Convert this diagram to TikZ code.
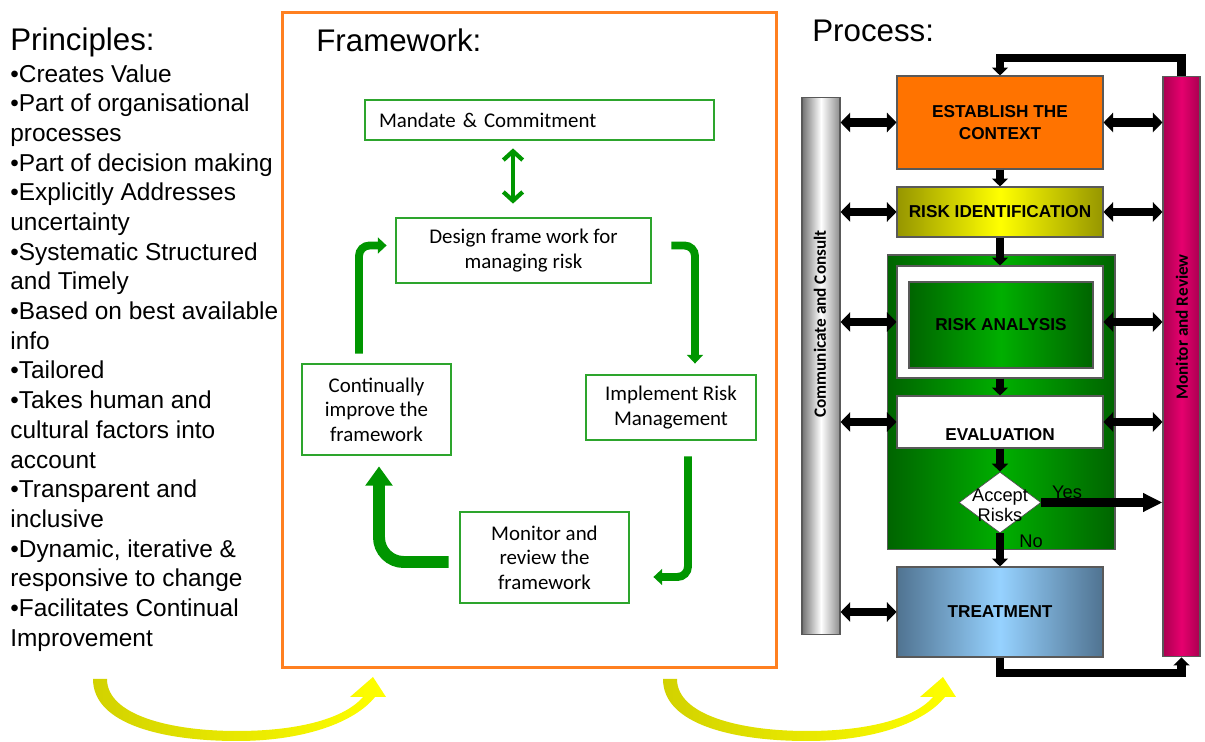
\documentclass[tikz,border=0pt]{standalone}
\usepackage{fontspec}
\setmainfont{Liberation Sans}
\newfontfamily\calibri{Carlito}
\usetikzlibrary{arrows.meta,shapes.geometric,calc}

\definecolor{frameorange}{RGB}{255,128,32}
\definecolor{fwgreen}{RGB}{45,165,45}
\definecolor{fwarrowgreen}{RGB}{0,150,0}
\definecolor{ctxorange}{RGB}{255,115,0}
\definecolor{idolive}{RGB}{150,150,0}
\definecolor{idyellow}{RGB}{255,255,0}
\definecolor{dkgreen}{RGB}{0,100,0}
\definecolor{ltgreen}{RGB}{0,175,0}
\definecolor{tdark}{RGB}{80,115,145}
\definecolor{tlight}{RGB}{150,210,255}
\definecolor{magdark}{RGB}{170,0,80}
\definecolor{magenta}{RGB}{230,0,110}
\definecolor{arcolive}{RGB}{210,210,0}

\tikzset{
  fwbox/.style={draw=fwgreen, line width=1.6pt, fill=white, align=center,
    font=\calibri\fontsize{11.9}{14}\selectfont, inner sep=0pt},
  fwarrow/.style={draw=fwarrowgreen, line width=4.5pt, rounded corners=6pt,
    -{Triangle[width=9pt,length=5pt]}},
  procbox/.style={draw=black!65, line width=0.6pt, minimum width=4.12cm, align=center,
    font=\bfseries\fontsize{9.8}{12.5}\selectfont, inner sep=0pt},
  dblarrow/.style={line width=4.6pt, {Triangle[width=11pt,length=5.5pt]}-{Triangle[width=11pt,length=5.5pt]}},
  downarrow/.style={line width=4.6pt, -{Triangle[width=9pt,length=4.5pt]}},
  loopline/.style={line width=5pt, -{Triangle[width=9pt,length=4.5pt]}},
  bartext/.style={font=\calibri\bfseries\fontsize{9.8}{11}\selectfont, inner sep=0pt},
  ptxt/.style={font=\fontsize{10.4}{11.4}\selectfont, inner sep=0pt}
}

\begin{document}
\begin{tikzpicture}[x=0.02cm, y=-0.02cm]
\useasboundingbox (0,0) rectangle (1205,742);

% principles
\node[anchor=base west, inner sep=0pt, font=\fontsize{17.8}{20}\selectfont] (princhead) at (10,51) {Principles:};
\node[anchor=north west, inner sep=0pt, align=left, font=\fontsize{13.9}{16.9}\selectfont] (princlist) at (10,64)
  {•Creates Value\\
   •Part of organisational\\
   processes\\
   •Part of decision making\\
   •Explicitly Addresses\\
   uncertainty\\
   •Systematic Structured\\
   and Timely\\
   •Based on best available\\
   info\\
   •Tailored\\
   •Takes human and\\
   cultural factors into\\
   account\\
   •Transparent and\\
   inclusive\\
   •Dynamic, iterative \&\\
   responsive to change\\
   •Facilitates Continual\\
   Improvement};

% framework
\node[draw=frameorange, line width=1.7pt, minimum width=9.9cm, minimum height=13.12cm, inner sep=0pt] (frame) at (529.5,340) {};
\node[anchor=base west, inner sep=0pt, font=\fontsize{17.8}{20}\selectfont] (framehead) at (316,52) {Framework:};

\node[fwbox, minimum width=6.98cm, minimum height=0.8cm, text width=6.42cm, align=left, inner xsep=0.28cm] (mandate) at (539.5,120) {Mandate \& Commitment};
\node[fwbox, minimum width=5.1cm, minimum height=1.3cm] (design) at (523.5,250.5) {Design frame work for\\managing risk};
\node[fwbox, minimum width=3.4cm, minimum height=1.3cm] (implement) at (671,407.5) {Implement Risk\\Management};
\node[fwbox, minimum width=3.38cm, minimum height=1.82cm] (monitor) at (544.5,557.5) {Monitor and\\review the\\framework};
\node[fwbox, minimum width=2.98cm, minimum height=1.82cm] (improve) at (376.5,409.5) {Continually\\improve the\\framework};

\draw[draw=fwarrowgreen, line width=2.4pt, shorten <=0.26cm, shorten >=0.14cm,
  {Straight Barb[length=5pt,width=11pt]}-{Straight Barb[length=5pt,width=11pt]}]
  ($(design.north)+(-10.5,0)$) -- ($(design.north |- mandate.south)+(-10.5,0)$);
\draw[fwarrow] ([xshift=-0.35cm,yshift=0.18cm]improve.north) |- ([xshift=-0.16cm,yshift=0.1cm]design.west);
\draw[fwarrow] ([xshift=0.38cm,yshift=0.1cm]design.east) -| ([xshift=0.48cm,yshift=0.2cm]implement.north);
\draw[fwarrow] ([xshift=0.34cm,yshift=-0.3cm]implement.south) |- ([xshift=0.46cm,yshift=-0.39cm]monitor.east);
\draw[fwarrow, line width=6.8pt, rounded corners=14pt, -{Triangle[width=15pt,length=11pt]}]
  ([xshift=-0.2cm,yshift=-0.09cm]monitor.west) -| ([xshift=0.05cm,yshift=-0.2cm]improve.south);

% process
\node[anchor=base west, inner sep=0pt, font=\fontsize{17.8}{20}\selectfont] (prochead) at (812,42) {Process:};

\node[procbox, left color=black!55, right color=black!45, middle color=white, minimum width=0.76cm, minimum height=10.76cm] (consult) at (821,366) {};
\node[procbox, left color=magdark, right color=magdark, middle color=magenta, minimum width=0.74cm, minimum height=11.62cm] (review) at (1181.5,366.5) {};
\node[bartext, rotate=90] (consulttext) at (820,324) {Communicate and Consult};
\node[bartext, rotate=90] (reviewtext) at (1182,327) {Monitor and Review};

\node[procbox, fill=ctxorange, minimum height=1.86cm] (context) at (1000,122.5) {ESTABLISH THE\\CONTEXT};
\node[procbox, left color=idolive, right color=idolive, middle color=idyellow, minimum height=1cm] (riskid) at (1000,212) {RISK IDENTIFICATION};
\node[procbox, left color=dkgreen, right color=dkgreen, middle color=ltgreen, minimum width=4.56cm, minimum height=5.9cm] (analysisbox) at (1001,402.5) {};
\node[procbox, fill=white, minimum height=2.24cm] (analysisframe) at (1000,322) {};
\node[procbox, left color=dkgreen, right color=dkgreen, middle color=ltgreen, minimum width=3.68cm, minimum height=1.72cm] (analysis) at (1001,325) {RISK ANALYSIS};
\node[procbox, fill=white, minimum height=1.04cm,
  label={[font=\bfseries\fontsize{9.8}{12.5}\selectfont, yshift=-0.26cm]center:EVALUATION}] (evaluation) at (1000,422) {};
\node[diamond, draw=black!70, fill=white, minimum width=1.64cm, minimum height=1.22cm, inner sep=0pt,
  label={[ptxt, align=center, yshift=-0.06cm]center:Accept\\Risks}] (accept) at (1000,502.5) {};
\node[procbox, left color=tdark, right color=tdark, middle color=tlight, minimum height=1.8cm] (treatment) at (1000,612) {TREATMENT};

\draw[downarrow] (context) -- (riskid);
\draw[downarrow] (riskid) -- (analysisframe);
\draw[downarrow] (analysisframe) -- (evaluation);
\draw[downarrow] (evaluation) -- (accept);
\draw[downarrow] (accept) -- (treatment);
\draw[line width=4.6pt, -{Triangle[width=10pt,length=11pt]}] (accept.east) -- (accept.east -| review.west);
\node[ptxt] (yes) at (1067,492) {Yes};
\node[ptxt] (no) at (1031,541) {No};

\foreach \n in {context,riskid,analysisframe,evaluation,treatment}
  \draw[dblarrow] (\n.west -| consult.east) -- (\n.west);
\foreach \n in {context,riskid,analysisframe,evaluation}
  \draw[dblarrow] (\n.east) -- (\n.east -| review.west);

\coordinate (looptop) at (1000,58);
\coordinate (loopbot) at (1000,673);
\draw[loopline] (review.north) |- (looptop) -- (context);
\draw[loopline] (treatment) -- (loopbot) -| (review.south);

% yellow arcs
\foreach \dx in {0,570} {
  \begin{scope}[shift={(\dx,0)}]
    \shade[left color=arcolive, right color=idyellow]
      (93,679) .. controls (93,725) and (165,741) .. (237,741)
      .. controls (305,741) and (355,722) .. (375,697)
      -- (386,697) -- (373,677) -- (350,697) -- (363,697)
      .. controls (345,718) and (300,731) .. (237,731)
      .. controls (170,731) and (107,715) .. (107,679) -- cycle;
  \end{scope}
}
\end{tikzpicture}
\end{document}
